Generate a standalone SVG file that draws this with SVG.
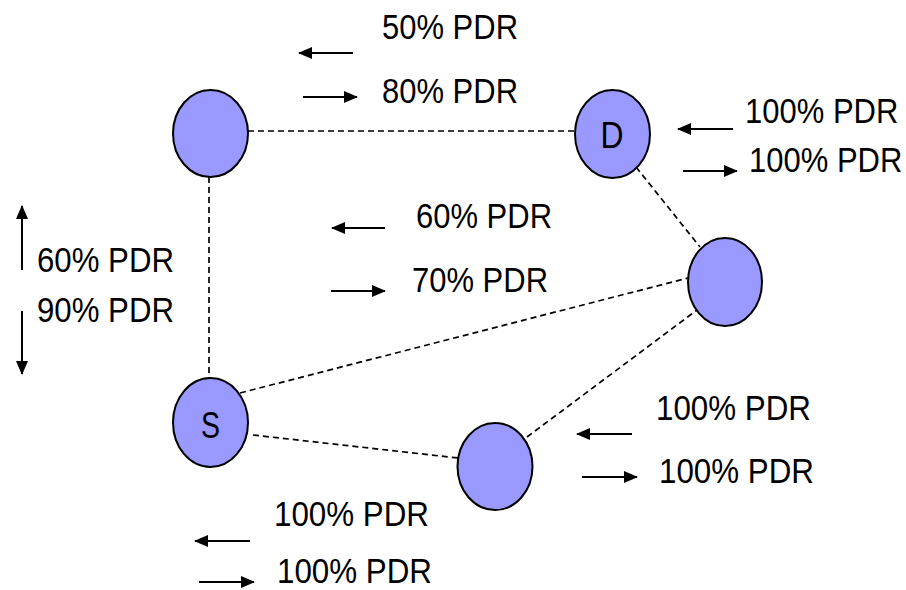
<svg xmlns="http://www.w3.org/2000/svg" width="906" height="590" viewBox="0 0 906 590">
  <style>
    .node { fill: #9999ff; stroke: #000; stroke-width: 2; }
    .link { stroke: #000; stroke-width: 1.7; stroke-dasharray: 6 4; fill: none; }
    .arr { stroke: #000; stroke-width: 2; fill: none; marker-end: url(#head); }
    .lbl { font-family: "Liberation Sans", Arial, sans-serif; font-size: 35px; fill: #000; }
    .lbl-n { font-family: "Liberation Sans", Arial, sans-serif; font-size: 31px; fill: #000; }
    .nid { font-family: "Liberation Sans", Arial, sans-serif; font-size: 36px; fill: #000; text-anchor: middle; }
  </style>
  <defs>
    <marker id="head" viewBox="0 0 14 12" refX="13" refY="6" markerWidth="14" markerHeight="12" markerUnits="userSpaceOnUse" orient="auto">
      <path d="M0,0 L14,6 L0,12 z" fill="#000"/>
    </marker>
  </defs>
  <rect width="906" height="590" fill="#fff"/>

  <!-- dashed links -->
  <g id="links">
    <line class="link" x1="248" y1="131" x2="575" y2="131"/>
    <line class="link" x1="209" y1="177" x2="209" y2="378"/>
    <line class="link" x1="636" y1="167" x2="700" y2="247"/>
    <line class="link" x1="240" y1="393" x2="688" y2="278"/>
    <line class="link" x1="253" y1="435" x2="458" y2="458"/>
    <line class="link" x1="527" y1="437" x2="697" y2="310"/>
  </g>

  <!-- nodes -->
  <g id="node-a"><ellipse class="node" cx="210.5" cy="133.5" rx="37.5" ry="43.5"/></g>
  <g id="node-d">
    <ellipse class="node" cx="612.5" cy="134" rx="37.5" ry="44"/>
    <text class="nid" x="612" y="148" textLength="23" lengthAdjust="spacingAndGlyphs">D</text>
  </g>
  <g id="node-c"><ellipse class="node" cx="725" cy="282" rx="37" ry="44"/></g>
  <g id="node-s">
    <ellipse class="node" cx="210.5" cy="422.5" rx="37.5" ry="44.5"/>
    <text class="nid" x="210.5" y="438" textLength="19" lengthAdjust="spacingAndGlyphs">S</text>
  </g>
  <g id="node-b"><ellipse class="node" cx="495" cy="466.5" rx="37.5" ry="43.5"/></g>

  <!-- direction arrows -->
  <g id="arrows">
    <line class="arr" x1="353" y1="53" x2="299" y2="53"/>
    <line class="arr" x1="303" y1="97" x2="357" y2="97"/>
    <line class="arr" x1="733" y1="129" x2="678" y2="129"/>
    <line class="arr" x1="683" y1="171" x2="737" y2="171"/>
    <line class="arr" x1="385" y1="228" x2="332" y2="228"/>
    <line class="arr" x1="331" y1="291" x2="385" y2="291"/>
    <line class="arr" x1="22" y1="270" x2="22" y2="206"/>
    <line class="arr" x1="22" y1="311" x2="22" y2="374"/>
    <line class="arr" x1="632" y1="434" x2="577" y2="434"/>
    <line class="arr" x1="582" y1="477" x2="637" y2="477"/>
    <line class="arr" x1="250" y1="541" x2="195" y2="541"/>
    <line class="arr" x1="199" y1="582" x2="254" y2="582"/>
  </g>

  <!-- link quality labels -->
  <g id="labels">
    <text class="lbl" x="382" y="39" textLength="136" lengthAdjust="spacingAndGlyphs">50% PDR</text>
    <text class="lbl" x="382" y="103" textLength="136" lengthAdjust="spacingAndGlyphs">80% PDR</text>
    <text class="lbl-n" transform="translate(745,123) scale(1,1.12)">100% PDR</text>
    <text class="lbl-n" transform="translate(749,172) scale(1,1.12)">100% PDR</text>
    <text class="lbl" x="416" y="228" textLength="136" lengthAdjust="spacingAndGlyphs">60% PDR</text>
    <text class="lbl" x="412" y="292" textLength="136" lengthAdjust="spacingAndGlyphs">70% PDR</text>
    <text class="lbl" x="37" y="272" textLength="137" lengthAdjust="spacingAndGlyphs">60% PDR</text>
    <text class="lbl" x="37" y="322" textLength="137" lengthAdjust="spacingAndGlyphs">90% PDR</text>
    <text class="lbl" x="656" y="420" textLength="155" lengthAdjust="spacingAndGlyphs">100% PDR</text>
    <text class="lbl" x="659" y="483" textLength="155" lengthAdjust="spacingAndGlyphs">100% PDR</text>
    <text class="lbl" x="274" y="526" textLength="155" lengthAdjust="spacingAndGlyphs">100% PDR</text>
    <text class="lbl" x="277" y="583" textLength="155" lengthAdjust="spacingAndGlyphs">100% PDR</text>
  </g>
</svg>
